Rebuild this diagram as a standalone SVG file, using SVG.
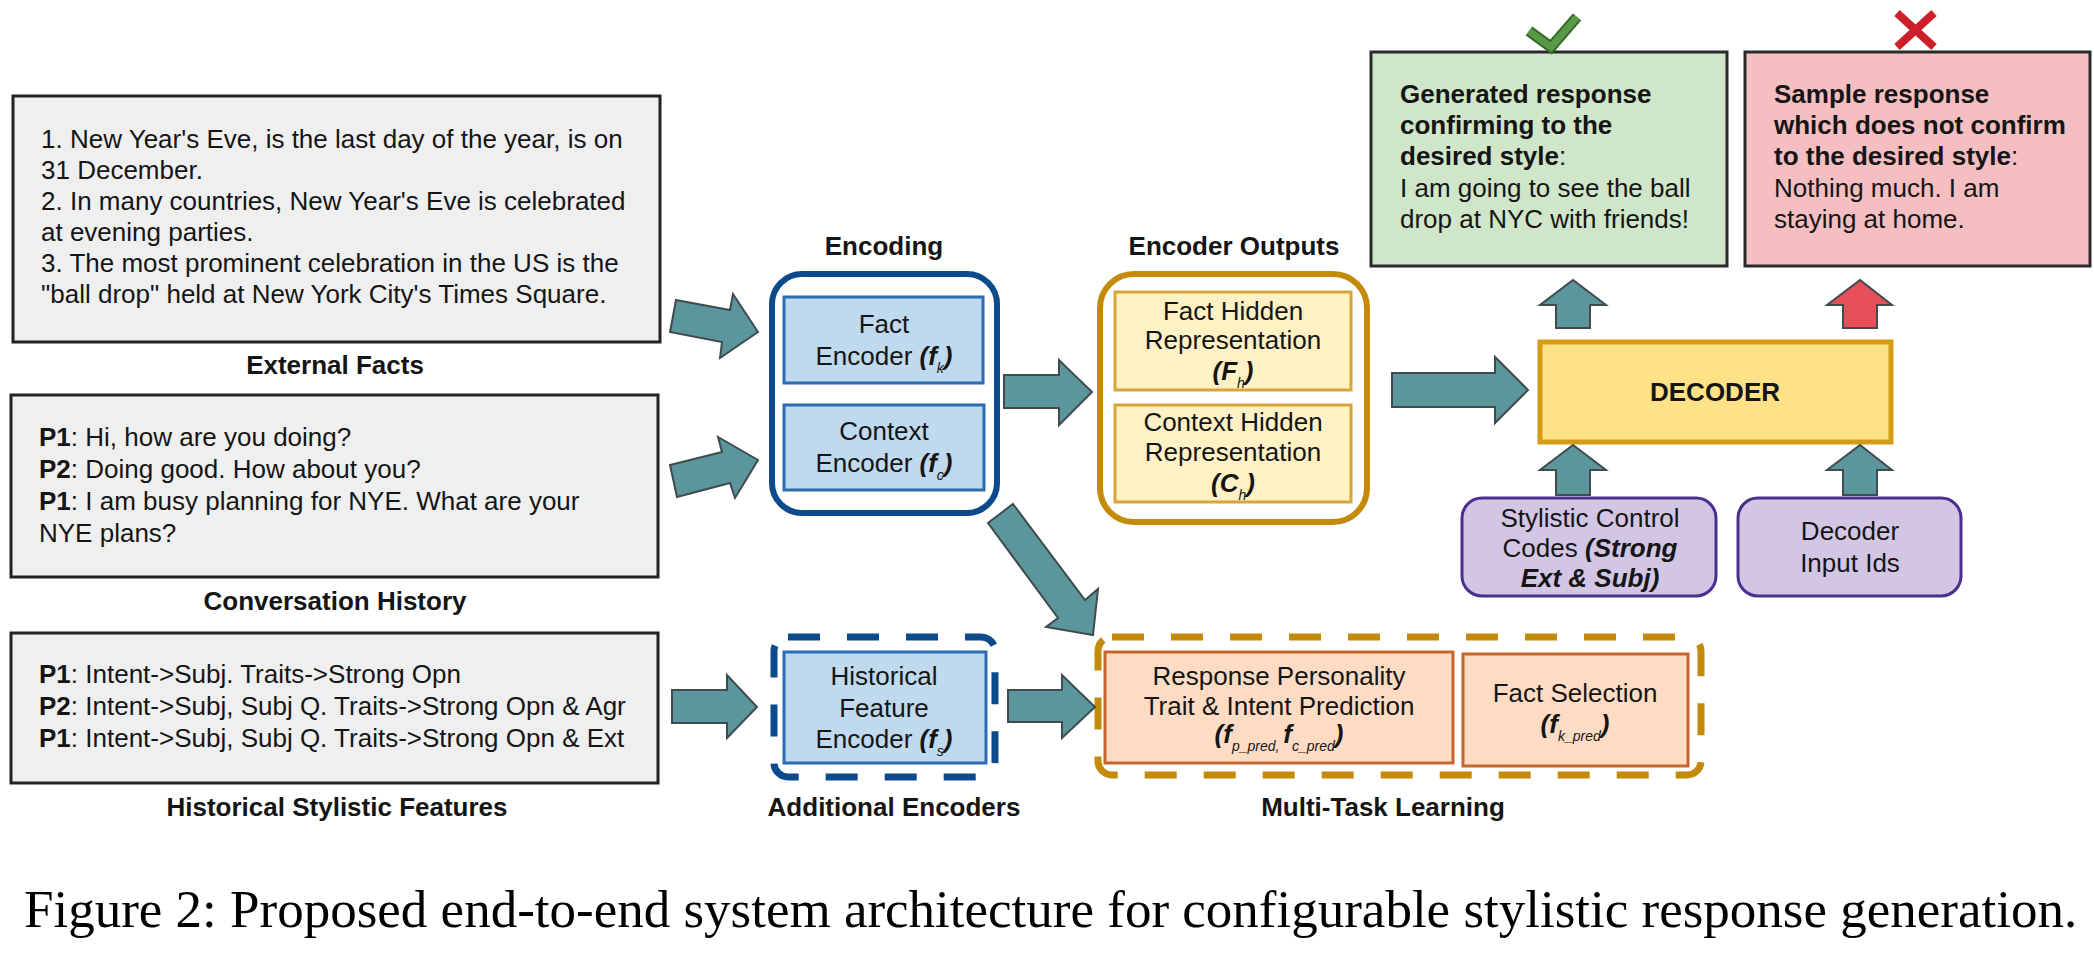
<svg xmlns="http://www.w3.org/2000/svg" width="2094" height="958" viewBox="0 0 2094 958">
<style>
.t{font-family:"Liberation Sans",Arial,sans-serif;font-size:26px;fill:#151515}
.b{font-weight:bold}
.c{text-anchor:middle}
.bi{font-weight:bold;font-style:italic}
.sub{font-size:14px;font-style:italic}
.grey{fill:#efefef;stroke:#222;stroke-width:3}
.arr{fill:#5a969c;stroke:#3f4b4e;stroke-width:2;stroke-linejoin:miter}
.arr-red{fill:#e6505a;stroke:#3f4b4e;stroke-width:2}
.encIn{fill:#bfd9ef;stroke:#2b6cb3;stroke-width:3}
.outIn{fill:#fff1c3;stroke:#d6a53a;stroke-width:3}
.peach{fill:#fddcc3;stroke:#c6652e;stroke-width:3}
.purple{fill:#d2c6e4;stroke:#4a2f8e;stroke-width:3}
.cap{font-family:"Liberation Serif","Times New Roman",serif;font-size:53px;fill:#000}
</style>
<rect width="2094" height="958" fill="#fff"/>

<g id="external-facts">
<rect class="grey" x="13" y="96" width="647" height="246"/>
<text class="t" x="41" y="148">1. New Year's Eve, is the last day of the year, is on</text>
<text class="t" x="41" y="179">31 December.</text>
<text class="t" x="41" y="210">2. In many countries, New Year's Eve is celebrated</text>
<text class="t" x="41" y="241">at evening parties.</text>
<text class="t" x="41" y="272">3. The most prominent celebration in the US is the</text>
<text class="t" x="41" y="303">"ball drop" held at New York City's Times Square.</text>
<text class="t b c" x="335" y="374">External Facts</text>
</g>

<g id="conversation-history">
<rect class="grey" x="11" y="395" width="647" height="182"/>
<text class="t" x="39" y="446"><tspan class="b">P1</tspan>: Hi, how are you doing?</text>
<text class="t" x="39" y="478"><tspan class="b">P2</tspan>: Doing good. How about you?</text>
<text class="t" x="39" y="510"><tspan class="b">P1</tspan>: I am busy planning for NYE. What are your</text>
<text class="t" x="39" y="542">NYE plans?</text>
<text class="t b c" x="335" y="610">Conversation History</text>
</g>

<g id="historical-features">
<rect class="grey" x="11" y="633" width="647" height="150"/>
<text class="t" x="39" y="683"><tspan class="b">P1</tspan>: Intent-&gt;Subj. Traits-&gt;Strong Opn</text>
<text class="t" x="39" y="715"><tspan class="b">P2</tspan>: Intent-&gt;Subj, Subj Q. Traits-&gt;Strong Opn &amp; Agr</text>
<text class="t" x="39" y="747"><tspan class="b">P1</tspan>: Intent-&gt;Subj, Subj Q. Traits-&gt;Strong Opn &amp; Ext</text>
<text class="t b c" x="337" y="816">Historical Stylistic Features</text>
</g>

<g id="encoding">
<text class="t b c" x="884" y="255">Encoding</text>
<rect x="772" y="274" width="225" height="239" rx="30" fill="#fff" stroke="#0b4a8c" stroke-width="6"/>
<g id="fact-encoder">
<rect class="encIn" x="784" y="297" width="199" height="86"/>
<text class="t c" x="884" y="333">Fact</text>
<text class="t c" x="884" y="365">Encoder <tspan class="bi">(f</tspan><tspan class="sub" dy="8">k</tspan><tspan class="bi" dy="-8">)</tspan></text>
</g>
<g id="context-encoder">
<rect class="encIn" x="784" y="405" width="200" height="85"/>
<text class="t c" x="884" y="440">Context</text>
<text class="t c" x="884" y="472">Encoder <tspan class="bi">(f</tspan><tspan class="sub" dy="8">c</tspan><tspan class="bi" dy="-8">)</tspan></text>
</g>
</g>

<g id="encoder-outputs">
<text class="t b c" x="1234" y="255">Encoder Outputs</text>
<rect x="1100" y="274" width="267" height="248" rx="34" fill="#fff" stroke="#c38a0b" stroke-width="6"/>
<g id="fact-hidden">
<rect class="outIn" x="1115" y="292" width="236" height="98"/>
<text class="t c" x="1233" y="320">Fact Hidden</text>
<text class="t c" x="1233" y="349">Representation</text>
<text class="t c" x="1233" y="380"><tspan class="bi">(F</tspan><tspan class="sub" dy="8">h</tspan><tspan class="bi" dy="-8">)</tspan></text>
</g>
<g id="context-hidden">
<rect class="outIn" x="1115" y="405" width="236" height="97"/>
<text class="t c" x="1233" y="431">Context Hidden</text>
<text class="t c" x="1233" y="461">Representation</text>
<text class="t c" x="1233" y="492"><tspan class="bi">(C</tspan><tspan class="sub" dy="8">h</tspan><tspan class="bi" dy="-8">)</tspan></text>
</g>
</g>

<g id="additional-encoders">
<rect x="774" y="637" width="221" height="140" rx="14" fill="#fff" stroke="#0b4a8c" stroke-width="7" stroke-dasharray="32 27"/>
<g id="historical-encoder">
<rect class="encIn" x="784" y="652" width="202" height="111"/>
<text class="t c" x="884" y="685">Historical</text>
<text class="t c" x="884" y="717">Feature</text>
<text class="t c" x="884" y="748">Encoder <tspan class="bi">(f</tspan><tspan class="sub" dy="8">s</tspan><tspan class="bi" dy="-8">)</tspan></text>
</g>
<text class="t b c" x="894" y="816">Additional Encoders</text>
</g>

<g id="multi-task-learning">
<rect x="1098" y="637" width="603" height="138" rx="14" fill="#fff" stroke="#c38a0b" stroke-width="7" stroke-dasharray="32 27"/>
<g id="personality-prediction">
<rect class="peach" x="1105" y="652" width="348" height="111"/>
<text class="t c" x="1279" y="685">Response Personality</text>
<text class="t c" x="1279" y="715">Trait &amp; Intent Prediction</text>
<text class="t c" x="1279" y="743"><tspan class="bi">(f</tspan><tspan class="sub" dy="8">p_pred, </tspan><tspan class="bi" dy="-8">f</tspan><tspan class="sub" dy="8">c_pred</tspan><tspan class="bi" dy="-8">)</tspan></text>
</g>
<g id="fact-selection">
<rect class="peach" x="1463" y="654" width="225" height="112"/>
<text class="t c" x="1575" y="702">Fact Selection</text>
<text class="t c" x="1575" y="733"><tspan class="bi">(f</tspan><tspan class="sub" dy="8">k_pred</tspan><tspan class="bi" dy="-8">)</tspan></text>
</g>
<text class="t b c" x="1383" y="816">Multi-Task Learning</text>
</g>

<g id="decoder">
<rect x="1540" y="342" width="351" height="100" fill="#ffe187" stroke="#d39c14" stroke-width="5"/>
<text class="t b c" x="1715" y="401">DECODER</text>
</g>

<g id="stylistic-codes">
<rect class="purple" x="1462" y="498" width="254" height="98" rx="20"/>
<text class="t c" x="1590" y="527">Stylistic Control</text>
<text class="t c" x="1590" y="557">Codes <tspan class="bi">(Strong</tspan></text>
<text class="t c bi" x="1590" y="587">Ext &amp; Subj)</text>
</g>

<g id="decoder-input">
<rect class="purple" x="1738" y="498" width="223" height="98" rx="20"/>
<text class="t c" x="1850" y="540">Decoder</text>
<text class="t c" x="1850" y="572">Input Ids</text>
</g>

<g id="good-response">
<rect x="1371" y="52" width="356" height="214" fill="#cfe6c8" stroke="#2a2a2a" stroke-width="3"/>
<text class="t b" x="1400" y="103">Generated response</text>
<text class="t b" x="1400" y="134">confirming to the</text>
<text class="t" x="1400" y="165"><tspan class="b">desired style</tspan>:</text>
<text class="t" x="1400" y="197">I am going to see the ball</text>
<text class="t" x="1400" y="228">drop at NYC with friends!</text>
<path d="M1529,31 L1551,47 L1577,17" fill="none" stroke="#356b2a" stroke-width="11" stroke-linejoin="miter"/>
<path d="M1529,31 L1551,47 L1577,17" fill="none" stroke="#5a9a44" stroke-width="7" stroke-linejoin="miter"/>
</g>

<g id="bad-response">
<rect x="1745" y="52" width="345" height="214" fill="#f5bec1" stroke="#2a2a2a" stroke-width="3"/>
<text class="t b" x="1774" y="103">Sample response</text>
<text class="t b" x="1774" y="134">which does not confirm</text>
<text class="t" x="1774" y="165"><tspan class="b">to the desired style</tspan>:</text>
<text class="t" x="1774" y="197">Nothing much. I am</text>
<text class="t" x="1774" y="228">staying at home.</text>
<path d="M1897,13 L1934,47 M1934,13 L1897,47" fill="none" stroke="#cc1f2a" stroke-width="8"/>
</g>

<g id="connectors">
<polygon class="arr" points="676,300 730,310 733,294 758,332 720,358 722,342 670,332"/>
<polygon class="arr" points="670,465 722,452 718,437 758,460 735,498 730,483 677,497"/>
<polygon class="arr" points="1004,375 1059,375 1059,360 1092,392 1059,425 1059,408 1004,408"/>
<polygon class="arr" points="1392,373 1495,373 1495,357 1528,390 1495,423 1495,407 1392,407"/>
<polygon class="arr" points="1013,504 1085,600 1098,589 1093,635 1046,627 1058,618 988,523"/>
<polygon class="arr" points="672,690 727,690 727,675 757,707 727,738 727,723 672,723"/>
<polygon class="arr" points="1008,690 1062,690 1062,675 1095,707 1062,738 1062,722 1008,722"/>
<polygon class="arr" points="1556,328 1556,305 1540,305 1573,280 1606,305 1590,305 1590,328"/>
<polygon class="arr-red" points="1843,328 1843,305 1827,305 1860,280 1892,305 1877,305 1877,328"/>
<polygon class="arr" points="1556,495 1556,470 1540,470 1573,445 1606,470 1590,470 1590,495"/>
<polygon class="arr" points="1843,495 1843,470 1827,470 1860,445 1892,470 1877,470 1877,495"/>
</g>

<text class="cap" x="24" y="927">Figure 2: Proposed end-to-end system architecture for configurable stylistic response generation.</text>
</svg>
